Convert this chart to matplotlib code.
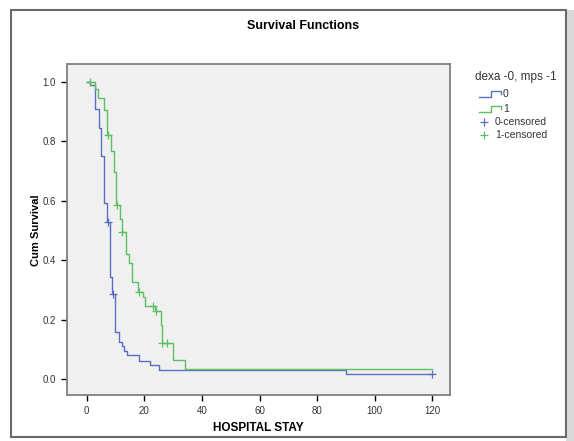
import matplotlib
matplotlib.use("Agg")
import matplotlib.pyplot as plt
from matplotlib.lines import Line2D
from matplotlib.patches import Rectangle

plt.rcParams['font.family'] = ['Liberation Sans', 'DejaVu Sans']

# group 0 (blue) - step times and survival
times0 = [0, 1.15, 2.9, 4.3, 5.1, 6.0, 7.0, 8.1, 8.9, 10.0, 11.2, 12.2, 13.1, 14.1, 18.1, 21.9, 25.2, 89.9, 120]
surv0 = [1.0, 0.988, 0.909, 0.844, 0.751, 0.593, 0.529, 0.345, 0.286, 0.158, 0.126, 0.113, 0.096, 0.082, 0.063, 0.048, 0.032, 0.017, 0.017]
cens0_t = [7.4, 9.0, 120]
cens0_s = [0.529, 0.286, 0.017]

# group 1 (green)
times1 = [0, 3.0, 4.1, 6.1, 7.1, 8.5, 9.65, 10.35, 11.5, 12.2, 13.5, 14.8, 15.8, 17.8, 19.4, 20.3, 23.7, 25.8, 26.3, 30.1, 34.1, 120]
surv1 = [1.0, 0.975, 0.947, 0.907, 0.821, 0.767, 0.697, 0.586, 0.539, 0.496, 0.420, 0.392, 0.327, 0.293, 0.278, 0.246, 0.228, 0.183, 0.122, 0.064, 0.034, 0.034]
cens1_t = [1.2, 7.4, 10.4, 12.2, 18.2, 23.0, 24.0, 26.0, 28.0]
cens1_s = [1.0, 0.821, 0.586, 0.496, 0.293, 0.246, 0.228, 0.122, 0.122]

xticks = [0, 20, 40, 60, 80, 100, 120]
yticks = [0.0, 0.2, 0.4, 0.6, 0.8, 1.0]
labels = ['0', '1', '0-censored', '1-censored']

blue = '#5a6ec6'
green = '#5cc060'
W, H = 574, 441

fig = plt.figure(figsize=(W / 100, H / 100), dpi=100)
fig.patch.set_facecolor('white')

# outer frame of the chart window (behind the axes)
fig.add_artist(Rectangle((566 / W, 0), 8 / W, 1 - 10 / H, transform=fig.transFigure,
                         facecolor='#d9d9d9', edgecolor='none', zorder=-2))
fig.add_artist(Rectangle((11 / W, 4 / H), 555 / W, 1 - 14 / H, transform=fig.transFigure,
                         facecolor='white', edgecolor='#6a6a6a', lw=1.5, zorder=-1))

ax = fig.add_axes([67 / W, 1 - 395 / H, (450 - 67) / W, (395 - 64) / H])
ax.set_facecolor('#f0f0f0')

ax.step(times0, surv0, where='post', color=blue, lw=1)
ax.step(times1, surv1, where='post', color=green, lw=1)
ax.plot(cens0_t, cens0_s, '+', color=blue, ms=6, mew=0.9, clip_on=False)
ax.plot(cens1_t, cens1_s, '+', color=green, ms=6, mew=0.9, clip_on=False)

ax.set_xlim(-6.8, 126.1)
ax.set_ylim(-0.053, 1.06)
ax.set_xticks(xticks)
ax.set_yticks(yticks)
ax.set_yticklabels(['%.1f' % v for v in yticks])
ax.tick_params(direction='out', length=4, width=1, color='black',
               labelsize=7, labelcolor='#333333', pad=4)
for s in ax.spines.values():
    s.set_color('#808080')
    s.set_linewidth(1.3)

fig.text(303 / W, 1 - 26 / H, 'Survival Functions', ha='center', va='center',
         fontsize=9, fontweight='bold')
fig.text(258 / W, 1 - 428 / H, 'HOSPITAL STAY', ha='center', va='center',
         fontsize=8.5, fontweight='bold')
fig.text(36 / W, 1 - 230 / H, 'Cum Survival', ha='center', va='center',
         rotation=90, fontsize=8, fontweight='bold')

# legend drawn at the right, outside the plot area
fig.text(475 / W, 1 - 77 / H, 'dexa -0, mps -1', ha='left', va='center',
         fontsize=8.5, color='#333333')
leg_y = [94, 109, 122, 135]
for lab, col, yy in zip(labels[:2], [blue, green], leg_y[:2]):
    xs = [479, 491, 491, 501, 501]
    ys = [yy + 3, yy + 3, yy - 3, yy - 3, yy]
    fig.add_artist(Line2D([x / W for x in xs], [1 - y / H for y in ys],
                          transform=fig.transFigure, color=col, lw=1))
    fig.text(503 / W, 1 - yy / H, lab, ha='left', va='center', fontsize=7.5, color='#333333')
for lab, col, yy in zip(labels[2:], [blue, green], leg_y[2:]):
    fig.add_artist(Line2D([484 / W], [1 - yy / H], transform=fig.transFigure,
                          marker='+', color=col, ms=6, mew=0.9, ls='none'))
    fig.text(495 / W, 1 - yy / H, lab, ha='left', va='center', fontsize=7.5, color='#333333')

fig.savefig('out.png', dpi=100)
